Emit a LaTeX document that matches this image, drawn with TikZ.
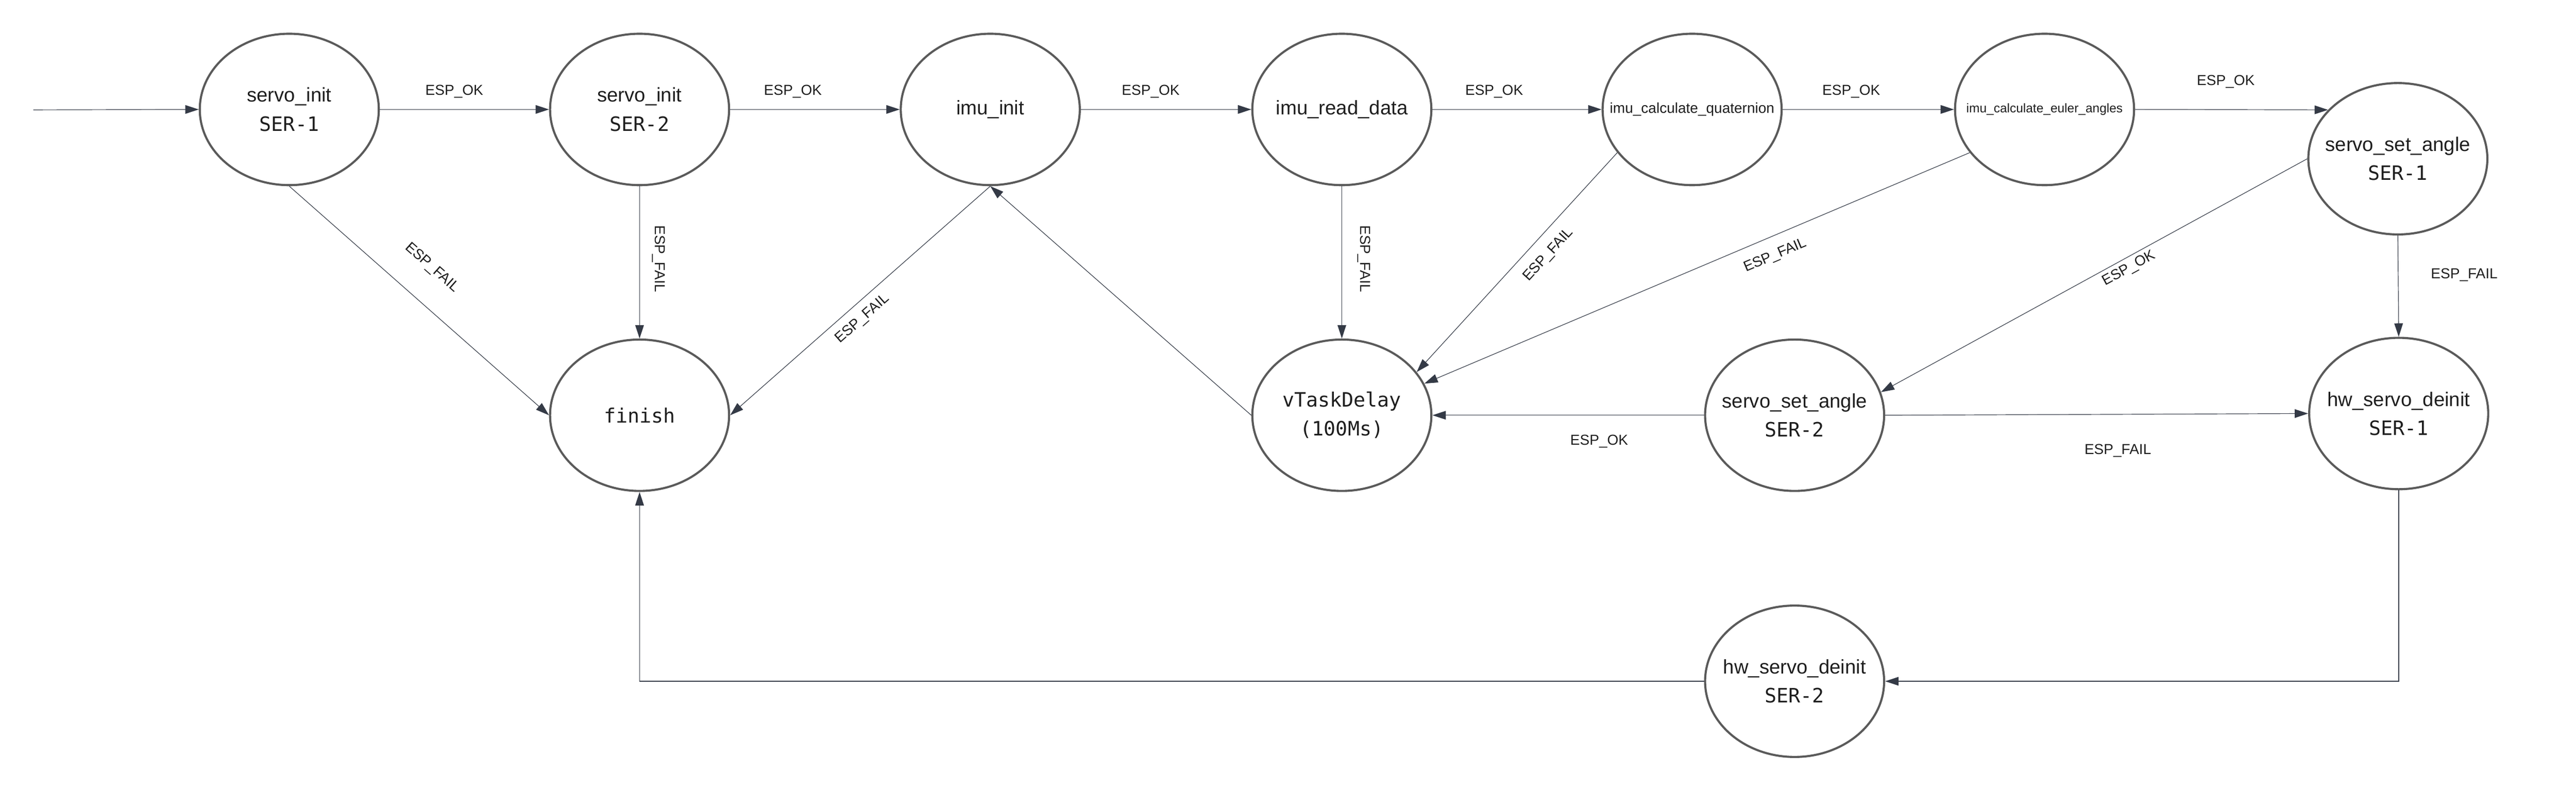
\documentclass[tikz,border=0pt]{standalone}
\usepackage{fontspec}
\setmainfont{Liberation Sans}
\setmonofont{DejaVu Sans Mono}
\usetikzlibrary{shapes.geometric,arrows.meta}
\definecolor{ringc}{HTML}{5A5A5A}
\definecolor{wirec}{HTML}{343A46}
\definecolor{textc}{HTML}{1E1E1E}

\begin{document}
\begin{tikzpicture}[
    fsm/.style={ellipse, draw=ringc, line width=1.4pt, minimum width=4.14cm, minimum height=3.5cm, inner xsep=-1.5cm, inner ysep=0pt, align=center, text=textc, font=\fontsize{13}{19}\selectfont},
    wire/.style={draw=wirec, line width=0.4pt, -{Triangle[length=3.1mm, width=2mm]}},
    lbl/.style={font=\fontsize{9.5}{11}\selectfont, text=textc, inner sep=0.5mm}
]
    \useasboundingbox (0,0) rectangle (59.57,-18.26);

    % top row
    \node[fsm] (srv1) at (6.69,-2.53) {servo\_init\\\texttt{SER-1}};
    \node[fsm] (srv2) at (14.79,-2.53) {servo\_init\\\texttt{SER-2}};
    \node[fsm] (imuinit) at (22.90,-2.53) {imu\_init};
    \node[fsm] (imuread) at (31.03,-2.53) {imu\_read\_data};
    \node[fsm, font=\fontsize{9.5}{11}\selectfont] (quat) at (39.13,-2.53) {imu\_calculate\_quaternion};
    \node[fsm, font=\fontsize{8.3}{10}\selectfont] (euler) at (47.28,-2.53) {imu\_calculate\_euler\_angles};
    \node[fsm] (set1) at (55.45,-3.67) {servo\_set\_angle\\\texttt{SER-1}};

    % middle row
    \node[fsm, font=\fontsize{13}{19}\selectfont\ttfamily] (finish) at (14.79,-9.60) {finish};
    \node[fsm, font=\fontsize{13}{19}\selectfont\ttfamily] (delay) at (31.03,-9.60) {vTaskDelay\\(100Ms)};
    \node[fsm] (set2) at (41.50,-9.60) {servo\_set\_angle\\\texttt{SER-2}};
    \node[fsm] (dein1) at (55.47,-9.56) {hw\_servo\_deinit\\\texttt{SER-1}};

    % bottom row
    \node[fsm] (dein2) at (41.50,-15.75) {hw\_servo\_deinit\\\texttt{SER-2}};

    % entry
    \coordinate (entry) at (0.77,-2.54);
    \draw[wire] (entry) -- (srv1.west);

    % ESP_OK chain
    \draw[wire] (srv1.east) -- node[lbl, above, outer sep=2.2mm, pos=.44] {ESP\_OK} (srv2.west);
    \draw[wire] (srv2.east) -- node[lbl, above, outer sep=2.2mm, pos=.37] {ESP\_OK} (imuinit.west);
    \draw[wire] (imuinit.east) -- node[lbl, above, outer sep=2.2mm, pos=.41] {ESP\_OK} (imuread.west);
    \draw[wire] (imuread.east) -- node[lbl, above, outer sep=2.2mm, pos=.365] {ESP\_OK} (quat.west);
    \draw[wire] (quat.east) -- node[lbl, above, outer sep=2.2mm, pos=.40] {ESP\_OK} (euler.west);
    \draw[wire] (euler.east) -- node[lbl, above, outer sep=4.5mm, pos=.47] {ESP\_OK} (set1.145);
    \draw[wire] (set1.west) -- node[lbl, sloped, below, outer sep=0.5mm, pos=.43] {ESP\_OK} (set2.15);
    \draw[wire] (set2.west) -- node[lbl, below, outer sep=4mm, pos=.386] {ESP\_OK} (delay.east);
    \draw[wire] (delay.west) -- (imuinit.south);

    % ESP_FAIL paths
    \draw[wire] (srv1.south) -- node[lbl, sloped, above, outer sep=5.7mm, pos=.465] {ESP\_FAIL} (finish.west);
    \draw[wire] (srv2.south) -- node[lbl, anchor=south, rotate=-90, outer sep=2.4mm, pos=.476] {ESP\_FAIL} (finish.north);
    \draw[wire] (imuinit.south) -- node[lbl, sloped, below, outer sep=1.5mm, pos=.53] {ESP\_FAIL} (finish.east);
    \draw[wire] (imuread.south) -- node[lbl, anchor=south, rotate=-90, outer sep=3.1mm, pos=.476] {ESP\_FAIL} (delay.north);
    \draw[wire] (quat.210) -- node[lbl, sloped, below, outer sep=2.2mm, pos=.41] {ESP\_FAIL} (delay.30);
    \draw[wire] (euler.210) -- node[lbl, sloped, below, outer sep=2.4mm, pos=.37] {ESP\_FAIL} (delay.21);
    \draw[wire] (set1.south) -- node[lbl, right=7mm, pos=.39] {ESP\_FAIL} (dein1.north);
    \draw[wire] (set2.east) -- node[lbl, below, outer sep=6.4mm, pos=.55] {ESP\_FAIL} (dein1.west);

    % deinit back to finish
    \draw[wire] (dein1.south) |- (dein2.east);
    \draw[wire] (dein2.west) -| (finish.south);
\end{tikzpicture}
\end{document}
